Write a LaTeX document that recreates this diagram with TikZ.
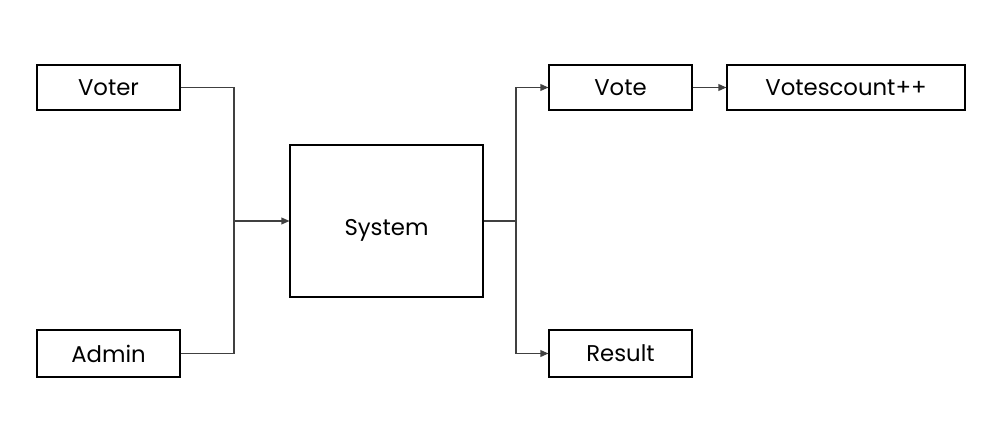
\documentclass[tikz,border=0pt]{standalone}
\usepackage{fontspec}
\setmainfont{Poppins}
\usepackage{tikz}
\usetikzlibrary{arrows.meta}

\tikzset{
  box/.style={draw=black,line width=0.8pt,inner sep=0pt,font=\fontsize{16.2}{19}\selectfont},
  link/.style={draw=black!75,line width=0.8pt},
  tip/.style={-{Triangle[length=2mm,width=1.7mm]}}
}

\begin{document}
\begin{tikzpicture}
[x=0.025cm,y=-0.025cm]
\useasboundingbox (0,0) rectangle (1004,439);
% left side
\node[box,minimum width=143*0.025cm,minimum height=45*0.025cm] (voter) at (108.5,87.5) {Voter};
\node[box,minimum width=143*0.025cm,minimum height=47*0.025cm] (admin) at (108.5,353.5) {Admin};
\node[box,minimum width=193*0.025cm,minimum height=152*0.025cm] (system) at (386.5,221) {};
\node[font=\fontsize{16.2}{19}\selectfont,inner sep=0pt] (systemtext) at (386.5,230.5) {System};
% right side
\node[box,minimum width=143*0.025cm,minimum height=45*0.025cm] (vote) at (620.5,87.5) {Vote};
\node[box,minimum width=238*0.025cm,minimum height=45*0.025cm] (count) at (846,87.5) {Votescount++};
\node[box,minimum width=143*0.025cm,minimum height=47*0.025cm] (result) at (620.5,353.5) {Result};
\coordinate (jl) at (234,221);
\coordinate (jr) at (516,221);
\draw[link] (voter.east) -| (jl);
\draw[link] (admin.east) -| (jl);
\draw[link,tip] (jl) -- (system.west);
\draw[link] (system.east) -- (jr);
\draw[link,tip] (jr) |- (vote.west);
\draw[link,tip] (jr) |- (result.west);
\draw[link,tip] (vote.east) -- (count.west);
\end{tikzpicture}
\end{document}
